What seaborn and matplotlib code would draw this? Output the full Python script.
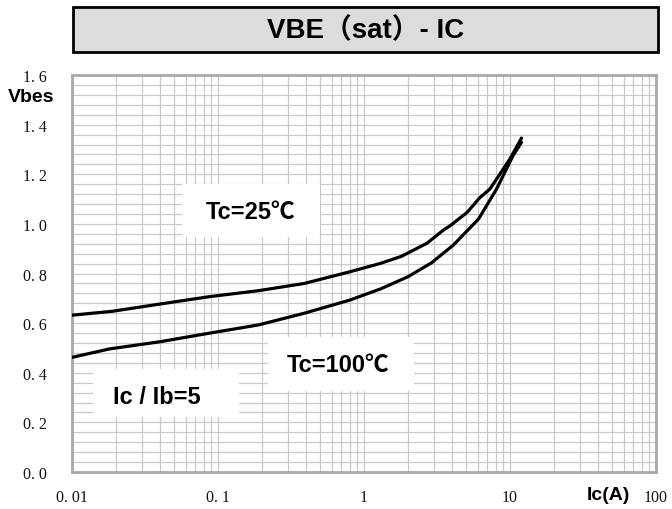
import matplotlib
matplotlib.use("Agg")
import matplotlib.pyplot as plt
import matplotlib.ticker as mticker
from matplotlib.patches import Rectangle
import seaborn as sns
import pandas as pd

# Data (Ic in A, Vbe(sat) in V)
ic_25 = [0.01, 0.019, 0.04, 0.088, 0.19, 0.39, 0.80, 1.3, 1.8, 2.7, 3.5, 3.9, 5.1, 6.2, 7.3, 10.0, 12.0]
vbe_25 = [0.632, 0.648, 0.677, 0.707, 0.731, 0.760, 0.807, 0.841, 0.869, 0.922, 0.975, 0.993, 1.047, 1.105, 1.141, 1.262, 1.346]

ic_100 = [0.01, 0.018, 0.04, 0.088, 0.19, 0.39, 0.80, 1.3, 2.0, 2.9, 4.1, 6.1, 8.1, 10.5, 12.0]
vbe_100 = [0.462, 0.496, 0.525, 0.560, 0.593, 0.640, 0.693, 0.738, 0.787, 0.843, 0.915, 1.02, 1.141, 1.275, 1.329]

y_ticks = [0.0, 0.2, 0.4, 0.6, 0.8, 1.0, 1.2, 1.4, 1.6]
y_labels = ["0. 0", "0. 2", "0. 4", "0. 6", "0. 8", "1. 0", "1. 2", "1. 4", "1. 6"]
x_ticks = [0.01, 0.1, 1, 10, 100]
x_labels = ["0. 01", "0. 1", "1", "10", "100"]

TITLE = "VBE（sat）- IC"
SANS = ["Liberation Sans", "Noto Sans CJK SC", "DejaVu Sans"]
SERIF = ["Liberation Serif", "DejaVu Serif"]

sns.set_theme(style="white")
plt.rcParams["font.family"] = SANS
plt.rcParams["text.color"] = "black"

df = pd.concat([
    pd.DataFrame({"Ic": ic_25, "Vbe": vbe_25, "Tc": "25"}),
    pd.DataFrame({"Ic": ic_100, "Vbe": vbe_100, "Tc": "100"}),
])

fig = plt.figure(figsize=(6.72, 5.10), dpi=100)
ax = fig.add_axes([0.1071, 0.0725, 0.869, 0.7784])

sns.lineplot(data=df, x="Ic", y="Vbe", units="Tc", estimator=None, sort=False,
             color="black", lw=2.3, ax=ax, zorder=5, legend=False)

ax.set_xscale("log")
ax.set_xlim(0.01, 100)
ax.set_ylim(0, 1.6)
ax.set_xticks(x_ticks)
ax.set_xticklabels(x_labels, family=SERIF, fontsize=11.5, color="#111111")
ax.xaxis.set_minor_locator(mticker.LogLocator(base=10, subs=range(2, 10)))
ax.xaxis.set_minor_formatter(mticker.NullFormatter())
ax.set_yticks(y_ticks)
ax.set_yticklabels(y_labels, family=SERIF, fontsize=11.5, color="#111111")
ax.yaxis.set_minor_locator(mticker.MultipleLocator(0.04))
ax.tick_params(which="both", length=0)
ax.tick_params(axis="y", pad=18)
ax.tick_params(axis="x", pad=12)
ax.set_xlabel("")
ax.set_ylabel("")

ax.grid(which="both", color="#c8c8c8", lw=0.9)
ax.set_axisbelow(True)
for s in ax.spines.values():
    s.set_color("#a8a8a8")
    s.set_linewidth(2)

# white label boxes inside the plot
boxes = [
    ((0.188, 0.592), 0.237, 0.133, (0.305, 0.657), "Tc=25℃"),
    ((0.336, 0.204), 0.250, 0.136, (0.455, 0.270), "Tc=100℃"),
    ((0.036, 0.139), 0.250, 0.120, (0.146, 0.191), "Ic / Ib=5"),
]
for xy, w, h, txy, label in boxes:
    ax.add_patch(Rectangle(xy, w, h, transform=ax.transAxes, facecolor="white",
                           edgecolor="none", zorder=3))
    ax.text(txy[0], txy[1], label, transform=ax.transAxes, ha="center", va="center",
            fontsize=17, fontweight="bold", color="black", zorder=6)

# title box
fig.patches.append(Rectangle((0.1086, 0.896), 0.8705, 0.088, transform=fig.transFigure,
                             facecolor="#dcdcdc", edgecolor="black", lw=2))
fig.text(0.544, 0.940, TITLE, ha="center", va="center", fontsize=20, fontweight="bold",
         color="black")

fig.text(0.046, 0.808, "Vbes", ha="center", va="center", fontsize=14, fontweight="bold",
         color="black")
fig.text(0.906, 0.029, "Ic(A)", ha="center", va="center", fontsize=14, fontweight="bold",
         color="black")

fig.savefig("out.png", dpi=100)
